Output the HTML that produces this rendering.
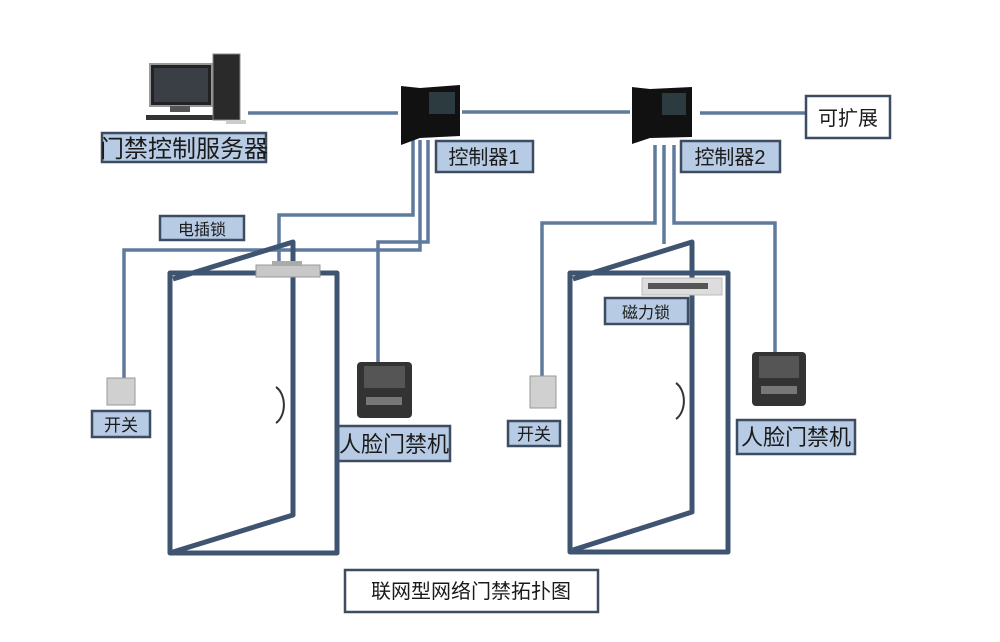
<!DOCTYPE html>
<html><head><meta charset="utf-8"><style>
html,body{margin:0;padding:0;background:#fff;}
svg{display:block;}
text{font-family:"Liberation Sans","Noto Sans CJK SC",sans-serif;fill:#1a1a1a;}
</style></head><body>
<svg width="1000" height="642" viewBox="0 0 1000 642" xmlns="http://www.w3.org/2000/svg">
<g fill="none" stroke="#5f7a9c" stroke-width="3.5">
 <line x1="248" y1="113" x2="398" y2="113"/>
 <line x1="462" y1="112" x2="630" y2="112"/>
 <line x1="700" y1="113" x2="808" y2="113"/>
 <!-- ctrl1 wires -->
 <polyline points="413,140 413,215 279,215 279,262"/>
 <polyline points="420,140 420,250 124,250 124,378"/>
 <polyline points="428,140 428,242 378,242 378,362"/>
 <!-- ctrl2 wires -->
 <polyline points="655,145 655,223 542,223 542,378"/>
 <polyline points="664,145 664,244"/>
 <polyline points="674,145 674,223 775,223 775,352"/>
</g>
<!-- computer -->
<rect x="150" y="64" width="62" height="42" fill="#222" stroke="#999" stroke-width="2"/>
<rect x="154" y="68" width="54" height="34" fill="#3a3f46"/>
<rect x="170" y="106" width="20" height="6" fill="#555"/>
<rect x="146" y="115" width="70" height="5" fill="#333"/>
<rect x="213" y="54" width="27" height="66" fill="#2a2a2a" stroke="#888"/>
<rect x="226" y="120" width="20" height="4" fill="#ccc"/>
<!-- controllers -->
<polygon points="401,86 420,88 460,85 460,136 420,138 401,145" fill="#111"/>
<rect x="429" y="92" width="26" height="22" fill="#2c3b40"/>
<polygon points="632,87 650,89 692,87 692,137 650,138 632,144" fill="#111"/>
<rect x="662" y="93" width="24" height="22" fill="#2c3b40"/>
<!-- labels -->
<g stroke="#3d4c60" stroke-width="2.5" fill="#b7cbe4">
 <rect x="102" y="133" width="164" height="29"/>
 <rect x="436" y="141" width="97" height="31"/>
 <rect x="681" y="141" width="99" height="31"/>
 <rect x="160" y="216" width="84" height="24"/>
 <rect x="92" y="411" width="58" height="26"/>
 <rect x="338" y="426" width="112" height="35"/>
 <rect x="605" y="298" width="83" height="26"/>
 <rect x="508" y="421" width="52" height="25"/>
 <rect x="737" y="420" width="118" height="34"/>
</g>
<g stroke="#3d4c60" stroke-width="2.5" fill="#fff">
 <rect x="806" y="96" width="84" height="42"/>
 <rect x="345" y="570" width="253" height="42"/>
</g>
<!-- doors -->
<g fill="none" stroke="#3f5470" stroke-width="5" stroke-linejoin="round">
 <rect x="170" y="273" width="167" height="280"/>
 <polyline points="173,279 293,242 293,515 173,552"/>
 <rect x="570" y="273" width="158" height="279"/>
 <polyline points="573,279 692,242 692,512 573,550"/>
</g>
<g fill="none" stroke="#333" stroke-width="2">
 <path d="M276,387 A14,20 0 0 1 276,423"/>
 <path d="M676,383 A14,20 0 0 1 676,419"/>
</g>
<!-- locks -->
<rect x="256" y="265" width="64" height="12" fill="#c8c8c8" stroke="#999"/>
<rect x="272" y="261" width="30" height="5" fill="#aaa"/>
<rect x="642" y="278" width="80" height="17" fill="#ddd" stroke="#bbb"/>
<rect x="648" y="283" width="60" height="6" fill="#555"/>
<!-- switches -->
<rect x="107" y="378" width="28" height="27" fill="#d0d0d0" stroke="#999"/>
<rect x="530" y="376" width="26" height="32" fill="#d0d0d0" stroke="#999"/>
<!-- face devices -->
<rect x="357" y="362" width="55" height="56" rx="4" fill="#333"/>
<rect x="364" y="366" width="41" height="22" fill="#555"/>
<rect x="366" y="397" width="36" height="8" fill="#777"/>
<rect x="752" y="352" width="54" height="54" rx="4" fill="#333"/>
<rect x="759" y="356" width="40" height="22" fill="#555"/>
<rect x="761" y="386" width="36" height="8" fill="#777"/>
<!-- text -->
<text x="184" y="157" font-size="24" text-anchor="middle">门禁控制服务器</text>
<text x="484" y="164" font-size="20" text-anchor="middle">控制器1</text>
<text x="730" y="164" font-size="20" text-anchor="middle">控制器2</text>
<text x="848" y="125" font-size="20" text-anchor="middle">可扩展</text>
<text x="202" y="235" font-size="16" text-anchor="middle">电插锁</text>
<text x="121" y="431" font-size="17" text-anchor="middle">开关</text>
<text x="394" y="452" font-size="22" text-anchor="middle">人脸门禁机</text>
<text x="646" y="318" font-size="16" text-anchor="middle">磁力锁</text>
<text x="534" y="440" font-size="17" text-anchor="middle">开关</text>
<text x="796" y="445" font-size="22" text-anchor="middle">人脸门禁机</text>
<text x="471" y="598" font-size="20" text-anchor="middle">联网型网络门禁拓扑图</text>
</svg>
</body></html>
